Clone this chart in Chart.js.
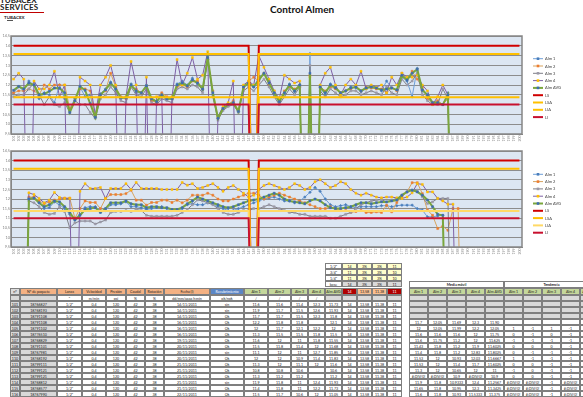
<!DOCTYPE html>
<html>
<head>
<meta charset="utf-8">
<script src="https://cdn.jsdelivr.net/npm/chart.js@4/dist/chart.umd.min.js"></script>
<style>
html,body{margin:0;padding:0;background:#fff;width:583px;height:397px;overflow:hidden;font-family:Lato,"Liberation Sans",sans-serif;}
.lg{position:absolute;font-weight:bold;color:#222;white-space:nowrap;}
#lg1{left:0;top:-4px;font-size:8px;line-height:8px;}
#lg2{left:0;top:3px;font-size:8px;line-height:8px;letter-spacing:0.3px;}
#lgbar{position:absolute;left:0;top:12px;width:44px;height:1px;background:#c00000;}
#lg3{left:4px;top:15px;font-size:4.5px;line-height:5px;}
#lg4{position:absolute;left:7px;top:20px;width:6px;height:1px;background:#555;}
#title{position:absolute;left:262px;top:3px;width:80px;text-align:center;font-weight:bold;font-size:10px;color:#111;}
canvas{position:absolute;left:0;}
#c1{top:28px;}
#c2{top:145px;}
#tbl{position:absolute;left:0;top:262px;font-size:3.6px;color:#222;}
.cell{position:absolute;box-sizing:border-box;border:0.5px solid #7f7f7f;text-align:center;overflow:hidden;white-space:nowrap;line-height:5.6px;height:6px;}
</style>
</head>
<body>
<div class="lg" id="lg1">TUBACEX</div>
<div class="lg" id="lg2">SERVICES</div>
<div id="lgbar"></div>
<div class="lg" id="lg3">TUBACEX</div>
<div id="lg4"></div>
<div id="title">Control Almen</div>
<canvas id="c1" width="583" height="117"></canvas>
<canvas id="c2" width="583" height="113"></canvas>
<div id="tbl"></div>
<script>
// Category labels (row numbers of the measurement sheet)
const rowLabels = ['101','102','103','104','105','106','107','108','109','110','111','112','113','114','115','116','117','118','119','120',
'121','122','123','124','125','126','127','128','129','130','131','132','133','134','135','136','137','138','139','140',
'141','142','143','144','145','146','147','148','149','150','151','152','153','154','155','156','157','158','159','160',
'161','162','163','164','165','166','167','168','169','170','171','172','173','174','175','176','177','178','179','180',
'181','182','183','184','185','186','187','188','189','190','191','192','193','194','195','196','197','198','199','200'];

// Raw Almen readings (0 = empty cell, plotted as zero like the spreadsheet does)
const alm1 = [11.6,11.9,11.7,12.2,12.0,11.3,11.6,11.5,11.1,12.0, 11.3,10.8,11.3,11.9,11.4,11.5,10.35,11.55,11.8,12.15,
11.75,11.3,11.35,12.05,11.6,11.6,12.0,11.35,11.15,11.4, 11.25,11.3,12.05,12.2,12.0,12.35,12.05,11.75,13.3,11.5,
10.3,10.85,11.0,11.05,10.65,11.95,12.1,11.9,12.4,12.55, 12.2,11.5,11.15,11.55,12.05,11.65,12.0,0,13.6,0,
11.85,11.5,12.05,11.9,11.55,11.7,11.9,11.85,11.65,11.8, 11.95,11.9,11.7,12.2,11.85,11.75,12.4,12.2,11.4,12.85,
11.7,11.45,11.05,11.1,11.0,11.6,0];
const alm2 = [11.6,11.7,11.7,11.8,11.7,11.5,12.0,11.8,12.0,12.0, 12.0,10.8,11.2,11.8,11.8,11.7,10.4,11.5,11.7,12.6,
11.9,11.4,11.3,11.9,11.8,11.6,11.9,11.2,11.1,11.6, 11.4,11.3,11.9,12.0,11.9,12.2,12.2,11.8,13.3,11.7,
10.3,10.8,11.0,11.2,10.7,11.8,12.2,12.4,12.2,12.6, 12.0,11.7,11.2,11.7,11.9,11.8,11.9,0,12.5,0,
11.9,11.7,11.9,11.8,11.6,11.7,11.8,11.95,11.7,11.9, 11.85,11.8,11.8,11.6,11.85,11.7,12.6,12.3,12.7,12.3,
11.9,11.3,11.1,11.2,11.0,11.3,0];
const alm3 = [11.4,11.5,11.5,11.8,12.1,11.5,11.0,11.4,11.0,10.9, 11.1,10.6,11.2,11.0,11.0,10.6,10.3,11.3,11.5,11.9,
11.6,11.2,11.1,11.9,11.5,11.4,11.8,11.1,11.0,11.3, 11.2,11.1,11.8,11.9,11.8,12.0,11.9,11.6,13.3,11.4,
10.2,10.7,10.9,11.0,10.6,11.7,11.9,11.7,12.0,12.3, 11.9,11.4,11.0,11.4,11.8,11.5,11.9,0,13.0,0,
11.7,11.4,11.8,11.6,11.4,11.5,11.7,11.7,11.5,11.6, 11.7,11.6,11.5,11.9,11.6,11.5,12.3,12.0,12.2,12.6,
11.5,11.2,11.0,11.0,11.8,11.3,0];
const alm4 = [12.3,12.6,12.3,0,12.2,11.8,11.8,12.0,12.7,11.4, 12.0,0,0,12.4,12.2,12.0,10.5,12.0,12.4,13.0,
12.0,0,11.4,13.2,12.0,0,12.4,0,11.4,11.5, 0,11.4,13.3,12.0,12.6,13.4,12.3,12.5,13.7,0,
10.4,10.9,11.1,12.2,0,12.0,12.2,12.0,13.5,12.9, 12.3,11.7,11.3,12.5,12.3,12.1,12.2,0,12.4,0,
12.0,12.6,12.9,12.0,11.5,12.0,12.3,12.0,12.7,11.8, 12.0,11.9,12.0,11.6,12.4,12.0,12.6,12.4,12.4,12.5,
12.0,11.7,11.0,11.4,12.0,11.5,0];
const almAvg = [11.73,11.93,11.8,12.1,12.0,11.5,11.55,11.68,11.85,11.83, 11.6,10.6,11.2,11.93,11.73,11.05,10.35,11.5,11.75,12.1,
11.8,11.35,11.35,12.0,11.7,11.6,11.95,11.3,11.15,11.5, 11.3,11.3,12.0,12.1,11.95,12.25,12.1,11.8,13.4,11.6,
10.3,10.8,11.0,11.1,10.65,11.9,12.1,11.9,12.25,12.6, 12.1,11.6,11.15,11.6,12.0,11.7,12.0,0,12.6,0,
11.9,11.6,12.0,11.85,11.6,11.7,11.85,11.9,11.7,11.85, 11.9,11.85,11.75,11.8,11.85,11.75,12.5,12.25,12.6,12.8,
11.75,11.5,11.1,11.1,11.0,11.5,0];

// Control limits: LS, LSA, LIA, LI (one empty row where the limits drop to zero)
const limLS  = 14, limLSA = 13.58, limLIA = 11.38, limLI = 11;
const limitGapRow = 47;

// Moving averages of each reading
const ma1 = [0,0,0,12.05,12.1,11.8,11.5,11.55,11.85,11.7, 11.5,11.2,11.0,11.2,11.55,11.6,11.6,11.4,11.4,11.7,
11.7,11.75,11.85,11.6,11.6,11.55,11.45,11.5,11.55,11.6, 11.5,11.4,11.4,11.5,11.7,11.75,11.7,11.7,11.8,11.75,
11.6,11.5,11.4,11.4,11.5,11.6,11.7,11.8,11.9,12.0, 12.05,12.1,12.0,11.9,11.9,11.8,11.9,12.1,12.35,12.6,
12.4,12.0,11.7,11.6,11.65,11.7,11.6,11.55,11.6,11.6, 11.6,11.6,11.65,11.65,11.6,11.65,11.68,11.68,11.68,11.5,
11.42,11.07,11.07,11.12,11.15,0];
const ma2 = [0,0,0,12.1,12.1,11.9,11.75,11.85,11.95,12.0, 12.05,12.05,11.0,11.5,11.9,11.82,11.82,11.5,12.03,12.23,
12.23,12.23,12.28,12.46,11.94,11.94,11.68,11.82,11.82,11.94, 11.94,11.82,11.94,11.8,11.94,12.2,12.2,12.2,12.3,12.2,
12.0,11.9,11.9,12.0,12.1,12.2,12.3,12.3,12.2,12.0, 12.1,12.2,12.3,12.2,12.1,12.0,11.9,11.8,11.7,11.6,
11.5,11.5,11.6,11.5,11.4,11.4,11.3,11.35,11.4,11.3, 11.3,11.33,11.3,11.68,11.33,11.82,12.1,12.37,12.85,12.85,
12.28,11.42,11.15,10.46,10.58,10.37,11.5,11.5,0];
const ma3 = [0,0,0,11.9,11.8,11.6,11.3,11.2,11.25,11.6, 11.35,10.5,10.75,10.85,10.85,10.85,10.7,10.8,10.9,11.3,
11.35,11.35,11.4,11.35,11.45,11.4,11.15,11.1,11.1,11.1, 11.1,11.1,11.15,11.3,11.45,11.7,11.95,11.9,11.8,11.7,
11.5,11.3,11.2,11.2,11.3,11.4,11.4,11.5,11.5,11.6, 11.7,11.6,11.5,11.4,11.3,11.3,11.2,11.2,11.1,11.1,
11.1,11.1,11.0,11.0,11.1,11.2,11.3,11.5,11.7,11.8, 11.9,11.94,11.97,11.85,11.94,12.03,12.2,12.37,12.46,12.46,
12.1,11.76,11.85,12.03,12.03,12.03,0];
const ma4 = [0,0,0,12.32,12.23,12.03,11.8,11.94,12.34,12.08, 12.03,12.03,0,12.4,12.8,12.55,12.55,12.6,12.03,12.55,
12.55,12.55,12.8,12.5,12.86,12.55,12.55,12.55,12.55,12.5, 12.5,12.5,12.5,12.86,12.72,12.8,12.55,12.6,12.7,12.8,
12.6,12.4,12.6,12.7,12.5,12.3,12.1,12.2,12.5,12.7, 12.8,12.7,12.6,12.5,12.6,12.8,12.7,12.5,12.6,12.9,
13.0,12.8,12.6,12.7,12.9,12.8,12.5,12.3,12.2,12.3, 12.2,12.1,12.06,12.1,12.1,12.06,12.03,12.1,12.32,12.8,
12.76,12.37,12.37,12.03,11.9,11.73,11.73,0];
const maAvg = [0,0,0,12.0,12.05,11.8,11.6,11.7,11.9,11.85, 11.6,11.3,10.9,11.15,11.45,11.5,11.55,11.3,11.5,11.8,
11.8,11.8,11.9,11.75,11.7,11.7,11.55,11.6,11.6,11.55, 11.55,11.45,11.45,11.55,11.75,11.9,12.1,12.0,11.9,11.8,
11.7,11.6,11.55,11.6,11.7,11.8,11.9,11.95,12.0,12.1, 12.2,12.3,12.2,12.0,11.9,11.85,11.8,11.75,11.9,12.0,
11.9,11.7,11.55,11.5,11.5,11.55,11.6,11.7,11.8,11.8, 11.75,11.8,11.85,11.85,11.9,11.95,12.2,12.37,12.46,12.37,
12.2,11.95,11.6,11.2,11.15,0];

function limitSeries(v){ return rowLabels.map((_, i) => i === limitGapRow ? 0 : v); }

const bgPlugin = {
  id: 'plotBg',
  beforeDraw(chart){
    const a = chart.chartArea, c = chart.ctx;
    c.save(); c.fillStyle = '#dce6f2'; c.fillRect(a.left, a.top, a.right - a.left, a.bottom - a.top); c.restore();
  },
  afterDraw(chart){
    const a = chart.chartArea, c = chart.ctx;
    c.save(); c.strokeStyle = '#868686'; c.lineWidth = 1.5;
    c.strokeRect(a.left, a.top, a.right - a.left, a.bottom - a.top); c.restore();
  }
};

// Legend on the right: short line with the series marker in the middle
const sideLegend = {
  id: 'sideLegend',
  afterDraw(chart, args, opts){
    const c = chart.ctx;
    c.save();
    chart.data.datasets.forEach((ds, k) => {
      const y = opts.y + k * opts.step;
      c.strokeStyle = ds.borderColor; c.lineWidth = Math.min(ds.borderWidth, 2);
      c.beginPath(); c.moveTo(opts.x, y); c.lineTo(opts.x + opts.len, y); c.stroke();
      if (ds.pointRadius > 0){
        c.fillStyle = ds.pointBackgroundColor;
        c.fillRect(opts.x + opts.len/2 - 1.3, y - 1.3, 2.6, 2.6);
      }
      c.fillStyle = '#404040'; c.font = '4px Lato'; c.textBaseline = 'middle';
      c.fillText(ds.label, opts.x + opts.len + 2, y + 0.3);
    });
    c.restore();
  }
};

function seriesSet(d1, d2, d3, d4, dAvg, lsaCol, liaCol){
  const mk = (label, data, line, pt, style, w) => ({
    label, data, borderColor: line, backgroundColor: pt, pointBackgroundColor: pt, pointBorderColor: pt,
    pointStyle: style, pointRadius: 1.4, pointBorderWidth: 0.5, borderWidth: w, tension: 0, spanGaps: false
  });
  const lim = (label, v, col) => ({
    label, data: limitSeries(v), borderColor: col, backgroundColor: col, borderWidth: 2, pointRadius: 0, tension: 0
  });
  const list = [
    mk('Alm 1', d1, '#6f9fd8', '#4a7ebb', 'rectRot', 1),
    mk('Alm 2', d2, '#d7a35e', '#ed7d31', 'rect', 1),
    mk('Alm 3', d3, '#7d7d86', '#9c9aa8', 'rect', 1),
    mk('Alm 4', d4, '#7e60a6', '#ffc000', 'rect', 1),
    mk('Alm AVG', dAvg, '#7aa63c', '#3e6cb4', 'rect', 2),
    lim('LS', limLS, '#d00000'),
    lim('LSA', limLSA, lsaCol),
    lim('LIA', limLIA, liaCol),
    lim('LI', limLI, '#c8102e')
  ];
  list.forEach((d, i) => d.order = -i);
  return list;
}

function buildChart(id, datasets, padTop, legendY){
  return new Chart(document.getElementById(id), {
    type: 'line',
    data: { labels: rowLabels, datasets },
    options: {
      responsive: false, animation: false, devicePixelRatio: 1,
      layout: { padding: { left: 0, right: 61, top: padTop, bottom: 0 } },
      plugins: { legend: { display: false }, tooltip: { enabled: false },
        sideLegend: { x: 533, y: legendY, step: 7.3, len: 10 } },
      scales: {
        x: { offset: true,
          grid: { display: false, drawTicks: false },
          border: { color: '#868686' },
          ticks: { autoSkip: false, minRotation: 90, maxRotation: 90, font: { size: 3.5, family: 'Lato' }, color: '#7f7f7f', padding: 1.5 },
          afterFit(s){ s.height = 11; } },
        y: { min: 9.5, max: 14.5,
          grid: { color: '#8c8c8c', lineWidth: 1, drawTicks: false },
          border: { color: '#868686' },
          ticks: { stepSize: 0.5, font: { size: 3.8, family: 'Lato' }, color: '#7f7f7f', padding: 1,
            callback: v => String(v).replace('.', ',') },
          afterFit(s){ s.width = 11; } }
      }
    },
    plugins: [bgPlugin, sideLegend]
  });
}

buildChart('c1', seriesSet(alm1, alm2, alm3, alm4, almAvg, '#ffc000', '#ffc000'), 8, 30.7);
buildChart('c2', seriesSet(ma1, ma2, ma3, ma4, maAvg, '#ffc000', '#ffd966'), 6, 29.3);

// ---- data sheet below the charts ----
const paquetes = ['18766827','18768193','18791108','18791108','18791102','18776510','18768829','18791101','18767981','18768192','18799111','18799121','18799121','18768812','18768577','18767990'];
const fechas = ['14/11/2011','14/11/2011','14/11/2011','16/11/2011','16/11/2011','16/11/2011','19/11/2011','20/11/2011','20/11/2011','20/11/2011','21/11/2011','21/11/2011','21/11/2011','21/11/2011','21/11/2011','22/11/2011'];
const recub = ['sin','sin','Ok','Ok','Ok','Ok','Ok','Ok','sin','Ok','Ok','Ok','Ok','sin','Ok','Ok'];
const maText = [
 ['','','','',''],['','','','',''],['','','','',''],
 ['11,7','12,05','11,69','12,3','11,90'],['12','12,05','11,99','12,2','12,05'],['11,6','11,6','11,6','12','11,75'],
 ['11,6','11,75','11,2','12','11,625'],['11,43','11,8','11,2','11,9','11,6025'],['11,4','11,8','11,2','12,83','11,8025'],
 ['11,53','12','10,93','12,03','11,6667'],['11,53','12','11,4','11,7','11,6025'],['11,3','12','10,65','12','11'],
 ['#¡DIV/0!','#¡DIV/0!','10,9','#¡DIV/0!','10,9'],['11,9','11,8','10,9333','12,4','11,2567'],['11,65','11,8','10,95','12,3','11,3425'],['11,6','11,8','10,93','11,5333','11,375']];
const trendText = [
 ['','','','',''],['','','','',''],['','','','',''],['','','','',''],
 ['1','-1','1','-1',''],['0','-1','0','-1',''],['-1','-1','-1','-1',''],['0','0','0','-1',''],['0','-1','-1','-1',''],
 ['1','-1','-1','-1',''],['0','0','-1','-1',''],['-1','0','-1','-1',''],['0','0','-1','-1',''],
 ['#¡DIV/0!','#¡DIV/0!','-1','#¡DIV/0!',''],['#¡DIV/0!','#¡DIV/0!','-1','#¡DIV/0!',''],['#¡DIV/0!','#¡DIV/0!','-1','#¡DIV/0!','']];

const fmt = v => (v === 0 || v === null || v === undefined) ? '' : String(+v.toFixed(2)).replace('.', ',');
const cols = [
 {x:10,w:10},{x:20,w:37},{x:57,w:25},{x:82,w:24},{x:106,w:20},{x:126,w:19},{x:145,w:19},{x:164,w:46},{x:210,w:34},
 {x:244,w:24},{x:268,w:23},{x:291,w:17},{x:308,w:17},{x:325,w:17},
 {x:342,w:15},{x:357,w:15},{x:372,w:15},{x:387,w:15},
 {x:409,w:19},{x:428,w:19},{x:447,w:19},{x:466,w:19},{x:485,w:19},
 {x:504,w:19},{x:523,w:19},{x:542,w:19},{x:561,w:19},{x:580,w:19}];
const head = ['nº','Nº de paquete','Lanza','Velocidad','Presión','Caudal','Rotación','Fecha (I)','Recubrimiento',
 'Alm 1','Alm 2','Alm 3','Alm 4','Alm AVG','14','13,58','11,38','11',
 'Alm 1','Alm 2','Alm 3','Alm 4','Alm AVG','Alm 1','Alm 2','Alm 3','Alm 4','Alm AVG'];
const units = ['','','"','m/min','psi','%','%','dd/mm/aaaa h:min','ok/nok','/','/','/','/','','','','','','','','','','','','','','',''];
const headBg = ['#dcdcdc','#f4b183','#f4b183','#f4b183','#f4b183','#f4b183','#f4b183','#f4b183','#5b86c5',
 '#c4d79b','#c4d79b','#c4d79b','#c4d79b','#c4d79b','#b00000','#fabf8f','#fabf8f','#b00000',
 '#c4d79b','#c4d79b','#c4d79b','#c4d79b','#c4d79b','#c4d79b','#c4d79b','#c4d79b','#c4d79b','#c4d79b'];

const tbl = document.getElementById('tbl');
function cell(x, y, w, h, text, bg, color, bold){
  const d = document.createElement('div');
  d.className = 'cell';
  d.style.left = x + 'px'; d.style.top = y + 'px'; d.style.width = w + 'px'; d.style.height = h + 'px';
  if (bg) d.style.background = bg;
  if (color) d.style.color = color;
  if (bold) d.style.fontWeight = 'bold';
  d.textContent = text;
  tbl.appendChild(d);
}
// small lance table (above the limit columns)
const lanceRows = [['1/2"','14','3%','3%','11'],['3/4"','11','3%','3%','10'],['1/4"','11','3%','3%','10'],['base','14','3%','3%','11']];
lanceRows.forEach((r, k) => {
  r.forEach((t, j) => cell(325 + (j ? 17 + (j-1)*15 : 0), 1 + k*6, j ? 15 : 17, 6, t, j && k < 3 ? '#ffffcc' : (j ? '#d9d9d9' : '#fff')));
});
cell(409, 19, 95, 7, 'Media móvil', '#fff', '#222', true);
cell(504, 19, 95, 7, 'Tendencia', '#fff', '#222', true);

const y0 = 26;
cols.forEach((c, j) => cell(c.x, y0, c.w, 7, head[j], headBg[j], j === 8 || j === 14 || j === 17 ? '#fff' : '#222', false));
cols.forEach((c, j) => cell(c.x, y0 + 7, c.w, 6, units[j], j === 0 || j === 1 || j >= 13 ? '#d9d9d9' : '#fff'));
for (let r = 0; r < 16; r++){
  const y = y0 + 13 + r * 6;
  const raw = [alm1[r], alm2[r], alm3[r], alm4[r], almAvg[r]].map(fmt);
  const vals = [rowLabels[r], paquetes[r], '1/2"', '0,4', '120', '42', '38', fechas[r], recub[r], ...raw,
    '14', '13,58', '11,38', '11', ...maText[r], ...trendText[r]];
  cols.forEach((c, j) => {
    let bg = '#fff';
    if (j === 0 || j === 1) bg = '#d9d9d9';
    if (j >= 18 && r < 3) bg = '#d9d9d9';
    cell(c.x, y, c.w, 6, vals[j], bg);
  });
}
</script>
</body>
</html>
